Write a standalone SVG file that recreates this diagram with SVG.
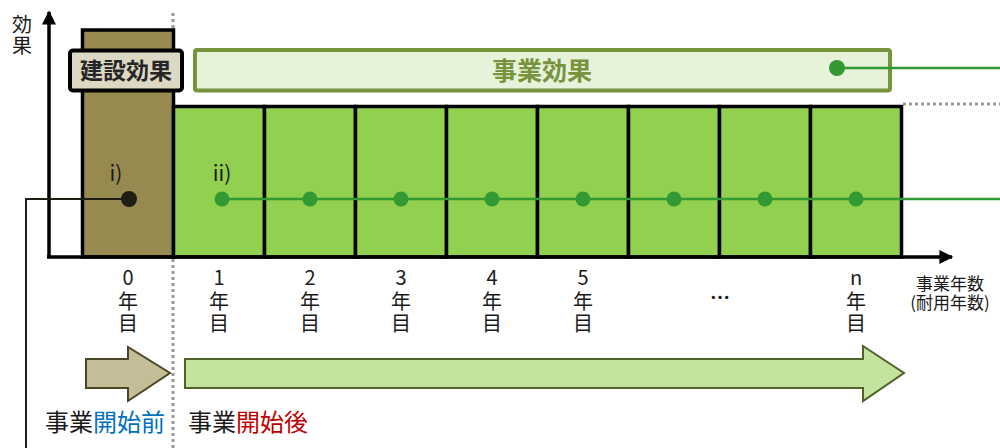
<svg xmlns="http://www.w3.org/2000/svg" width="1000" height="448" viewBox="0 0 1000 448">
<style>
text{font-family:"Noto Sans CJK JP","Noto Sans",sans-serif;fill:#1a1a1a}
.yr{font-size:20px;text-anchor:middle}
.cell{fill:#92D050;stroke:#000;stroke-width:3.5}
.dot{fill:#339933}
.dotted{stroke:#999;stroke-width:3;stroke-dasharray:3 3;fill:none}
</style>
<defs>
<marker id="ah" viewBox="0 0 10 10" refX="9" refY="5" markerWidth="4.5" markerHeight="4" orient="auto" markerUnits="strokeWidth"><path d="M0,0 L10,5 L0,10 z" fill="#000"/></marker>
</defs>
<rect width="1000" height="448" fill="#fff"/>
<g id="guides">
<line class="dotted" x1="173" y1="13" x2="173" y2="448"/>
<line class="dotted" x1="903" y1="104" x2="1000" y2="104"/>
</g>
<g id="construction-column">
<rect x="82.5" y="30" width="91" height="227" fill="#968A50" stroke="#000" stroke-width="3.5"/>
</g>
<g id="year-cells">
<rect class="cell" x="173.5" y="106.5" width="91" height="150.5"/>
<rect class="cell" x="264.5" y="106.5" width="91" height="150.5"/>
<rect class="cell" x="355.5" y="106.5" width="91" height="150.5"/>
<rect class="cell" x="446.5" y="106.5" width="91" height="150.5"/>
<rect class="cell" x="537.5" y="106.5" width="91" height="150.5"/>
<rect class="cell" x="628.5" y="106.5" width="91" height="150.5"/>
<rect class="cell" x="719.5" y="106.5" width="91" height="150.5"/>
<rect class="cell" x="810.5" y="106.5" width="91" height="150.5"/>
</g>
<g id="axes">
<line x1="49" y1="257" x2="49" y2="12" stroke="#000" stroke-width="3.5" marker-end="url(#ah)"/>
<line x1="47" y1="257" x2="952" y2="257" stroke="#000" stroke-width="3.5" marker-end="url(#ah)"/>
<text x="22" y="32" font-size="20" text-anchor="middle">効<tspan x="22" dy="21">果</tspan></text>
</g>
<g id="kensetsu-label">
<rect x="70" y="50.5" width="112" height="40" rx="3" fill="#DDD8C3" stroke="#000" stroke-width="4"/>
<text x="126" y="79" font-size="23" font-weight="bold" text-anchor="middle" style="fill:#262626">建設効果</text>
</g>
<g id="jigyo-label">
<rect x="195" y="50" width="695" height="40.5" rx="2" fill="#E6F2D9" stroke="#77933C" stroke-width="4"/>
<text x="542" y="80" font-size="25" font-weight="bold" text-anchor="middle" style="fill:#77933C">事業効果</text>
</g>
<g id="connectors">
<polyline points="129,199 26,199 26,448" fill="none" stroke="#1E1E14" stroke-width="2"/>
<line x1="222" y1="199" x2="1000" y2="199" stroke="#339933" stroke-width="2.5"/>
<line x1="837" y1="68" x2="1000" y2="68" stroke="#339933" stroke-width="2.5"/>
</g>
<g id="points">
<circle cx="129" cy="199" r="8" fill="#1E1E14"/>
<text x="116" y="181" font-size="21" text-anchor="middle">i)</text>
<text x="222" y="181" font-size="21" text-anchor="middle">ii)</text>
<circle class="dot" cx="222" cy="199" r="7.5"/>
<circle class="dot" cx="310" cy="199" r="7.5"/>
<circle class="dot" cx="401" cy="199" r="7.5"/>
<circle class="dot" cx="492" cy="199" r="7.5"/>
<circle class="dot" cx="583" cy="199" r="7.5"/>
<circle class="dot" cx="674" cy="199" r="7.5"/>
<circle class="dot" cx="765" cy="199" r="7.5"/>
<circle class="dot" cx="856" cy="199" r="7.5"/>
<circle class="dot" cx="837" cy="68" r="8"/>
</g>
<g id="year-labels">
<text class="yr" x="128" y="285" font-size="21">0<tspan x="128" dy="24">年</tspan><tspan x="128" dy="22">目</tspan></text>
<text class="yr" x="219" y="285" font-size="21">1<tspan x="219" dy="24">年</tspan><tspan x="219" dy="22">目</tspan></text>
<text class="yr" x="310" y="285" font-size="21">2<tspan x="310" dy="24">年</tspan><tspan x="310" dy="22">目</tspan></text>
<text class="yr" x="401" y="285" font-size="21">3<tspan x="401" dy="24">年</tspan><tspan x="401" dy="22">目</tspan></text>
<text class="yr" x="492" y="285" font-size="21">4<tspan x="492" dy="24">年</tspan><tspan x="492" dy="22">目</tspan></text>
<text class="yr" x="583" y="285" font-size="21">5<tspan x="583" dy="24">年</tspan><tspan x="583" dy="22">目</tspan></text>
<text class="yr" x="720" y="305" font-size="30" font-weight="bold">…</text>
<text class="yr" x="856" y="285" font-size="21">n<tspan x="856" dy="24">年</tspan><tspan x="856" dy="22">目</tspan></text>
<text x="950" y="290" font-size="17" text-anchor="middle">事業年数<tspan x="950" dy="19">(耐用年数)</tspan></text>
</g>
<g id="phase-arrows">
<polygon points="86,359 128,359 128,347 170,373 128,401 128,388 86,388" fill="#C4BD97" stroke="#4A4626" stroke-width="2"/>
<polygon points="185,359 863,359 863,346 904,373 863,401 863,388 185,388" fill="#C3E39F" stroke="#4F6228" stroke-width="2"/>
<text x="45" y="431" font-size="24">事業<tspan style="fill:#0070C0">開始前</tspan></text>
<text x="188" y="431" font-size="24">事業<tspan style="fill:#C00000">開始後</tspan></text>
</g>
</svg>
